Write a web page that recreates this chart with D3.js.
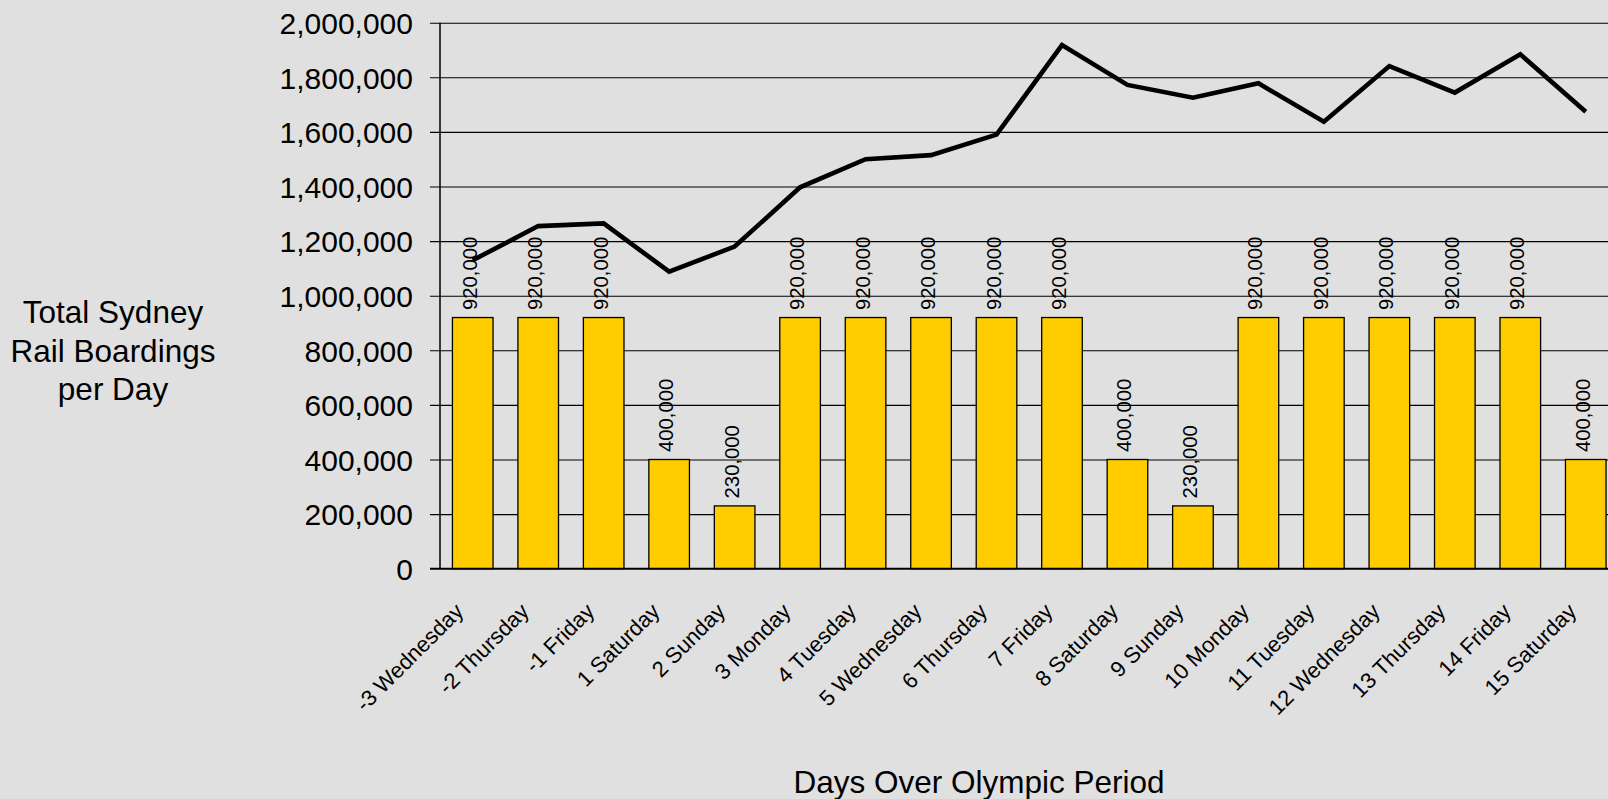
<!DOCTYPE html>
<html>
<head>
<meta charset="utf-8">
<script src="https://cdn.jsdelivr.net/npm/d3@7"></script>
<style>
  html, body { margin: 0; padding: 0; background: #e0e0e0; }
  svg { display: block; }
  text { font-family: "Liberation Sans", Arial, sans-serif; fill: #000; }
</style>
</head>
<body>
<svg id="chart" width="1608" height="799"></svg>
<script>
const days = ["-3 Wednesday", "-2 Thursday", "-1 Friday", "1 Saturday", "2 Sunday", "3 Monday",
  "4 Tuesday", "5 Wednesday", "6 Thursday", "7 Friday", "8 Saturday", "9 Sunday",
  "10 Monday", "11 Tuesday", "12 Wednesday", "13 Thursday", "14 Friday", "15 Saturday"];
const barValues = [920000, 920000, 920000, 400000, 230000, 920000, 920000, 920000, 920000, 920000,
  400000, 230000, 920000, 920000, 920000, 920000, 920000, 400000];
const lineValues = [1130000, 1255000, 1265000, 1088000, 1180000, 1397000, 1500000, 1515000, 1590000,
  1918000, 1772000, 1725000, 1778000, 1637000, 1841000, 1744000, 1884000, 1674000];
const yTicks = [0, 200000, 400000, 600000, 800000, 1000000, 1200000, 1400000, 1600000, 1800000, 2000000];
const yTitle = ["Total Sydney", "Rail Boardings", "per Day"];
const xTitle = "Days Over Olympic Period";

(function () {
const W = 1608, H = 799;
const mLeft = 440, mTop = 22.7, mBottom = 568.7, mRight = 1618.5;
const svg = d3.select("#chart");
svg.append("rect").attr("width", W).attr("height", H).attr("fill", "#e0e0e0");

const x = d3.scaleBand().domain(days).range([mLeft, mRight]).paddingInner(0.38).paddingOuter(0.19);
const xc = d => x(d) + x.bandwidth() / 2;
const y = d3.scaleLinear().domain([0, 2000000]).range([mBottom, mTop]);
const fmt = d3.format(",");

// gridlines + ticks
const yAxis = d3.axisLeft(y).tickValues(yTicks).tickFormat(fmt).tickSize(0).tickPadding(27);
const gy = svg.append("g").attr("transform", `translate(${mLeft},0)`).call(yAxis);
gy.select(".domain").remove();
gy.selectAll("text").attr("font-size", 30).attr("fill", "#000").attr("dy", "0.36em")
  .style("font-family", "'Liberation Sans', Arial, sans-serif");
gy.selectAll(".tick").append("line")
  .attr("x1", -10).attr("x2", W - mLeft).attr("y1", 0).attr("y2", 0)
  .attr("stroke", "#000").attr("stroke-width", d => d === 0 ? 0 : 1.1);

// bars
svg.append("g").selectAll("rect").data(days).join("rect")
  .attr("x", d => x(d)).attr("width", x.bandwidth())
  .attr("y", (d, i) => y(barValues[i]))
  .attr("height", (d, i) => y(0) - y(barValues[i]))
  .attr("fill", "#ffcc00").attr("stroke", "#000").attr("stroke-width", 1.3);

// bar labels
svg.append("g").selectAll("text").data(days).join("text")
  .attr("transform", (d, i) => `translate(${xc(d) + 4},${y(barValues[i]) - 7.5}) rotate(-90)`)
  .attr("font-size", 20.3).attr("text-anchor", "start")
  .text((d, i) => fmt(barValues[i]));

// axes lines
svg.append("line").attr("x1", mLeft).attr("x2", mLeft).attr("y1", mTop).attr("y2", mBottom)
  .attr("stroke", "#000").attr("stroke-width", 1.5);
svg.append("line").attr("x1", mLeft - 10).attr("x2", W).attr("y1", mBottom).attr("y2", mBottom)
  .attr("stroke", "#000").attr("stroke-width", 2);

// line series
const line = d3.line().x((d, i) => xc(days[i])).y(d => y(d));
svg.append("path").datum(lineValues).attr("d", line)
  .attr("fill", "none").attr("stroke", "#000").attr("stroke-width", 4.6)
  .attr("stroke-linejoin", "miter");

// x tick labels
const xAxis = d3.axisBottom(x).tickSize(0).tickPadding(0);
const gx = svg.append("g").attr("transform", `translate(0,${mBottom})`).call(xAxis);
gx.select(".domain").remove();
gx.selectAll("text")
  .attr("font-size", 22).attr("fill", "#000")
  .attr("text-anchor", "end").attr("dy", 0).attr("y", 0)
  .attr("transform", "translate(-8,44) rotate(-45)")
  .style("font-family", "'Liberation Sans', Arial, sans-serif");

// titles
svg.append("text").attr("x", 979).attr("y", 792.7).attr("text-anchor", "middle")
  .attr("font-size", 31.5).text(xTitle);
svg.append("text").attr("text-anchor", "middle").attr("font-size", 31.5)
  .selectAll("tspan").data(yTitle).join("tspan")
  .attr("x", 113).attr("y", (d, i) => 323.3 + i * 38.3).text(d => d);
})();
</script>
</body>
</html>
